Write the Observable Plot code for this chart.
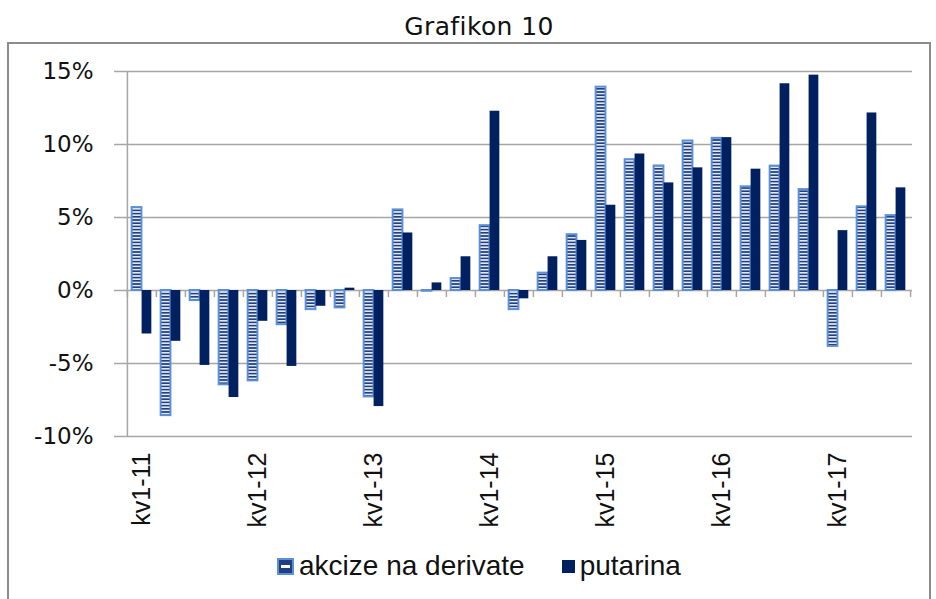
<!DOCTYPE html>
<html>
<head>
<meta charset="utf-8">
<script src="https://cdn.jsdelivr.net/npm/d3@7"></script>
<script src="https://cdn.jsdelivr.net/npm/@observablehq/plot@0.6"></script>
<style>
  html, body { margin: 0; padding: 0; background: #fff; overflow: hidden; }
  #title { position: absolute; left: 0; width: 958px; top: 13px; text-align: center;
    font-family: "DejaVu Sans", Verdana, sans-serif; font-size: 25px; letter-spacing: 0.4px; color: #111; line-height: 28px; }
  #box { position: absolute; left: 7px; top: 42px; width: 924px; height: 580px; box-sizing: border-box;
    border: 2px solid #8c8c8c; }
  #chart { position: absolute; left: 9px; top: 44px; }
  #legend { position: absolute; left: 277px; top: 550px; display: flex; align-items: center;
    font-family: "Liberation Sans", Arial, sans-serif; font-size: 28px; color: #111; }
  #legend .item { display: flex; align-items: center; }
  #legend svg { margin-right: 5px; }
</style>
</head>
<body>
<div id="title">Grafikon 10</div>
<div id="box"></div>
<div id="chart"></div>
<div id="legend"></div>
<script>
const quarters = [
  "kv1-11","kv2-11","kv3-11","kv4-11",
  "kv1-12","kv2-12","kv3-12","kv4-12",
  "kv1-13","kv2-13","kv3-13","kv4-13",
  "kv1-14","kv2-14","kv3-14","kv4-14",
  "kv1-15","kv2-15","kv3-15","kv4-15",
  "kv1-16","kv2-16","kv3-16","kv4-16",
  "kv1-17","kv2-17","kv3-17"
];
const akcize = [5.68, -8.57, -0.69, -6.46, -6.19, -2.34, -1.31, -1.19, -7.29, 5.52, -0.05, 0.82, 4.44, -1.31, 1.19, 3.82, 13.93, 8.96, 8.53, 10.24, 10.42, 7.10, 8.52, 6.91, -3.83, 5.73, 5.13];
const putarina = [-2.98, -3.48, -5.13, -7.33, -2.11, -5.20, -1.08, 0.16, -7.95, 3.94, 0.52, 2.31, 12.28, -0.57, 2.31, 3.43, 5.84, 9.35, 7.37, 8.40, 10.47, 8.31, 14.16, 14.75, 4.10, 12.16, 7.03];
const xTickLabels = ["kv1-11","kv1-12","kv1-13","kv1-14","kv1-15","kv1-16","kv1-17"];
const yTicks = [-10, -5, 0, 5, 10, 15];
const seriesNames = ["akcize na derivate", "putarina"];

const akcData = quarters.map((q, i) => ({q, v: akcize[i]}));
const putData = quarters.map((q, i) => ({q, v: putarina[i]}));

const W = 920, H = 500, ML = 115, MR = 17, MT = 27, MB = 108;
const bw = (W - ML - MR) / quarters.length;
const gap = bw * 0.16;
const barW = (bw - 2 * gap) / 2;

const navy = "#002060";
const lightBlue = "#5b8fd6";
const gridColor = "#a6a6a6";

const plot = Plot.plot({
  width: W, height: H,
  marginLeft: ML, marginRight: MR, marginTop: MT, marginBottom: MB,
  style: { background: "transparent", overflow: "visible" },
  x: { type: "band", domain: quarters, padding: 0 },
  y: { domain: [-10, 15] },
  marks: [
    Plot.gridY(yTicks, { stroke: gridColor, strokeOpacity: 1, strokeWidth: 1.5 }),
    Plot.axisY(yTicks, {
      tickSize: 10, tickPadding: 21, stroke: gridColor, strokeWidth: 1.5,
      tickFormat: d => d + "%", fontSize: 23, fontFamily: "DejaVu Sans, Verdana, sans-serif",
      fill: "#111", label: null
    }),
    Plot.ruleX([quarters[0]], { y1: -10, y2: 15, dx: -bw / 2, stroke: gridColor, strokeWidth: 1.5 }),
    Plot.ruleX(quarters, { x: d => d, y1: 0, y2: -0.48, dx: -bw / 2, stroke: gridColor, strokeWidth: 1.5 }),
    Plot.ruleX([quarters[quarters.length - 1]], { y1: 0, y2: -0.48, dx: bw / 2, stroke: gridColor, strokeWidth: 1.5 }),
    Plot.barY(akcData, {
      x: "q", y: "v", insetLeft: gap, insetRight: gap + barW,
      fill: "url(#akcStripes)", stroke: lightBlue, strokeWidth: 2
    }),
    Plot.barY(putData, {
      x: "q", y: "v", insetLeft: gap + barW, insetRight: gap,
      fill: navy
    }),
    Plot.axisX(xTickLabels, {
      tickSize: 0, tickPadding: 16, tickRotate: -90, fontSize: 25,
      fontFamily: "Liberation Sans, Arial, sans-serif", fill: "#111", label: null
    })
  ]
});

// stripe pattern for akcize bars
const svg = d3.select(plot);
const defs = svg.insert("defs", ":first-child");
const pat = defs.append("pattern")
  .attr("id", "akcStripes").attr("patternUnits", "userSpaceOnUse")
  .attr("width", 4).attr("height", 3.2);
pat.append("rect").attr("width", 4).attr("height", 3.2).attr("fill", "#1f3f80");
pat.append("rect").attr("y", 0.9).attr("width", 4).attr("height", 1.4).attr("fill", "#ffffff");

document.getElementById("chart").appendChild(plot);

// legend
const legend = d3.select("#legend");
const it1 = legend.append("div").attr("class", "item");
const s1 = it1.append("svg").attr("width", 17).attr("height", 17);
s1.append("rect").attr("x", 1).attr("y", 1).attr("width", 15).attr("height", 15)
  .attr("fill", "#1f3f80").attr("stroke", lightBlue).attr("stroke-width", 2);
s1.append("rect").attr("x", 4).attr("y", 7).attr("width", 9).attr("height", 3).attr("fill", "#fff");
it1.append("span").text(seriesNames[0]);
const it2 = legend.append("div").attr("class", "item").style("margin-left", "37px");
const s2 = it2.append("svg").attr("width", 13).attr("height", 13);
s2.append("rect").attr("width", 13).attr("height", 13).attr("fill", navy);
it2.append("span").text(seriesNames[1]);
</script>
</body>
</html>
